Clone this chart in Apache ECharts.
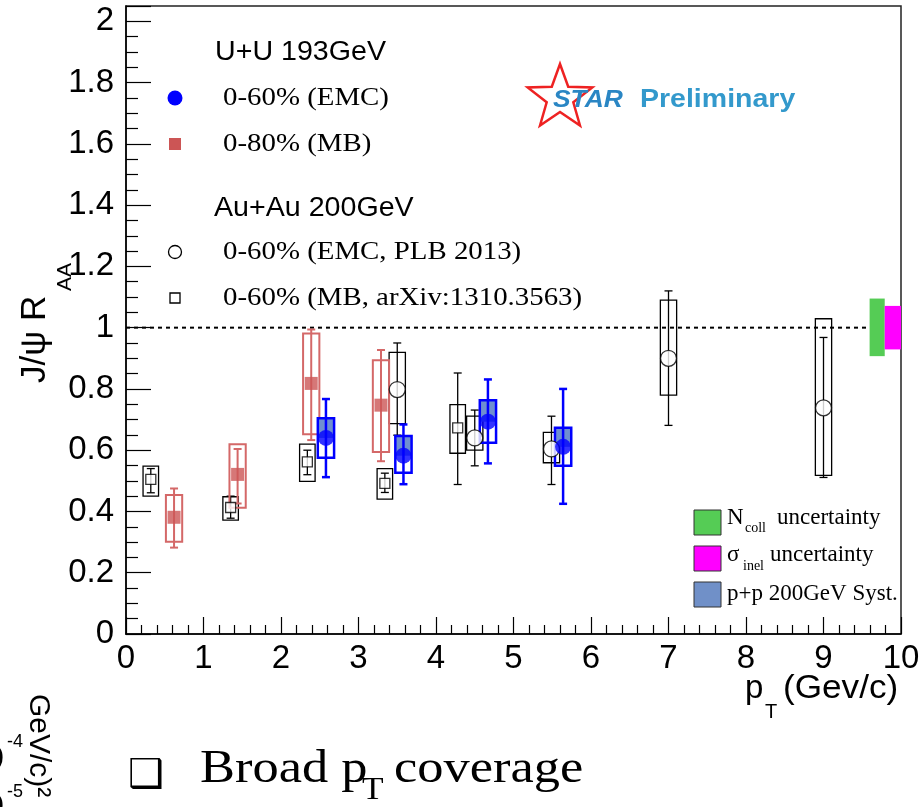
<!DOCTYPE html>
<html><head><meta charset="utf-8">
<script src="https://cdn.jsdelivr.net/npm/echarts@6/dist/echarts.min.js"></script>
<style>html,body{margin:0;padding:0;background:#fff}#c{width:923px;height:807px}</style>
</head><body><div id="c"></div>
<script>
// ---- data ----
// U+U 193 GeV, 0-60% (EMC)
const uuEmcX      = [2.58, 3.58, 4.67, 5.64];
const uuEmcY      = [0.640, 0.582, 0.693, 0.611];
const uuEmcStatLo = [0.512, 0.489, 0.557, 0.425];
const uuEmcStatHi = [0.767, 0.684, 0.831, 0.800];
const uuEmcSysLo  = [0.575, 0.526, 0.624, 0.549];
const uuEmcSysHi  = [0.704, 0.646, 0.763, 0.673];
// U+U 193 GeV, 0-80% (MB)
const uuMbX      = [0.62, 1.44, 2.39, 3.29];
const uuMbY      = [0.381, 0.521, 0.818, 0.747];
const uuMbStatLo = [0.282, 0.426, 0.633, 0.564];
const uuMbStatHi = [0.475, 0.604, 0.994, 0.927];
const uuMbSysLo  = [0.301, 0.412, 0.652, 0.594];
const uuMbSysHi  = [0.454, 0.619, 0.981, 0.894];
// Au+Au 200 GeV, 0-60% (EMC, PLB 2013)
const auEmcX      = [3.50, 4.50, 5.49, 7.00, 9.00];
const auEmcY      = [0.798, 0.640, 0.604, 0.900, 0.738];
const auEmcStatLo = [0.649, 0.549, 0.488, 0.681, 0.511];
const auEmcStatHi = [0.950, 0.731, 0.711, 1.120, 0.968];
const auEmcSysLo  = [0.687, 0.600, 0.559, 0.780, 0.518];
const auEmcSysHi  = [0.919, 0.711, 0.658, 1.090, 1.029];
// Au+Au 200 GeV, 0-60% (MB, arXiv:1310.3563)
const auMbX      = [0.32, 1.35, 2.34, 3.34, 4.28];
const auMbY      = [0.505, 0.413, 0.562, 0.492, 0.673];
const auMbStatLo = [0.461, 0.378, 0.520, 0.462, 0.488];
const auMbStatHi = [0.540, 0.450, 0.600, 0.525, 0.852];
const auMbSysLo  = [0.450, 0.372, 0.498, 0.440, 0.590];
const auMbSysHi  = [0.548, 0.448, 0.620, 0.540, 0.749];
// global uncertainty boxes at R_AA = 1
const globNames = ['Ncoll', 'sigma_inel'];
const globX0 = [9.595, 9.79];
const globX1 = [9.79, 10.0];
const globLo = [0.907, 0.929];
const globHi = [1.095, 1.071];
const refLineX = [0, 9.6];
const refLineY = [1, 1];

const xTickValues = [0,1,2,3,4,5,6,7,8,9,10];
const yTickValues = [0,0.2,0.4,0.6,0.8,1,1.2,1.4,1.6,1.8,2];

function rows(x, y, sl, sh, bl, bh) {
  return x.map((v, i) => [v, y[i], sl[i], sh[i], bl[i], bh[i]]);
}

function errBox(o) {
  return function (params, api) {
    const x = api.value(0), y = api.value(1);
    const sl = api.value(2), sh = api.value(3), bl = api.value(4), bh = api.value(5);
    const tl = api.coord([x - o.half, bh]);
    const br = api.coord([x + o.half, bl]);
    const c = api.coord([x, y]);
    const s1 = api.coord([x, sh]), s2 = api.coord([x, sl]);
    const ch = [];
    if (o.fill) ch.push({type:'rect', shape:{x:tl[0], y:tl[1], width:br[0]-tl[0], height:c[1]-tl[1]}, style:{fill:o.fill}});
    ch.push({type:'rect', shape:{x:tl[0], y:tl[1], width:br[0]-tl[0], height:br[1]-tl[1]}, style:{fill:'none', stroke:o.color, lineWidth:o.boxW}});
    ch.push({type:'line', shape:{x1:c[0], y1:s1[1], x2:c[0], y2:s2[1]}, style:{stroke:o.color, lineWidth:o.errW}});
    ch.push({type:'line', shape:{x1:c[0]-o.cap, y1:s1[1], x2:c[0]+o.cap, y2:s1[1]}, style:{stroke:o.color, lineWidth:o.errW}});
    ch.push({type:'line', shape:{x1:c[0]-o.cap, y1:s2[1], x2:c[0]+o.cap, y2:s2[1]}, style:{stroke:o.color, lineWidth:o.errW}});
    return {type:'group', children:ch};
  };
}

const RED = '#cc5555', REDBOX = '#d46868', BLUE = '#0000ff';

const chart = echarts.init(document.getElementById('c'), null, {renderer:'canvas'});

// star outline for the STAR logo
function starPts(cx, cy, R, r) {
  const p = [];
  for (let i = 0; i < 10; i++) {
    const a = -Math.PI/2 + i*Math.PI/5;
    const rr = i % 2 ? r : R;
    p.push([cx + rr*Math.cos(a), cy + rr*Math.sin(a)]);
  }
  return p;
}

const serif = '"Liberation Serif","Times New Roman",serif';
const sans = '"Liberation Sans",Arial,sans-serif';

function T(x, y, text, font, extra) {
  const el = {type:'text', x:x, y:y, style:{text:text, font:font, fill:'#000', verticalAlign:'middle'}};
  if (extra) {
    for (const k in extra) {
      if (k === 'style') Object.assign(el.style, extra.style);
      else el[k] = extra[k];
    }
  }
  return el;
}

const graphics = [
  // top-left legend
  T(215, 53, 'U+U 193GeV', '27px '+sans, {scaleX:1.06}),
  {type:'circle', shape:{cx:175, cy:98, r:7.5}, style:{fill:BLUE}},
  T(223, 98, '0-60% (EMC)', '26px '+serif, {scaleX:1.11}),
  {type:'rect', shape:{x:169, y:138, width:12, height:12}, style:{fill:RED}},
  T(223, 144, '0-80% (MB)', '26px '+serif, {scaleX:1.11}),
  T(214, 209, 'Au+Au 200GeV', '27px '+sans, {scaleX:1.06}),
  {type:'circle', shape:{cx:175, cy:252, r:6.5}, style:{fill:'#fff', stroke:'#000', lineWidth:1.3}},
  T(223, 252, '0-60% (EMC, PLB 2013)', '26px '+serif, {scaleX:1.11}),
  {type:'rect', shape:{x:170, y:293, width:10, height:10}, style:{fill:'#fff', stroke:'#000', lineWidth:1.3}},
  T(223, 298, '0-60% (MB, arXiv:1310.3563)', '26px '+serif, {scaleX:1.11}),
  // STAR Preliminary
  {type:'polygon', shape:{points:starPts(560, 98, 34, 14)}, style:{fill:'none', stroke:'#ee2222', lineWidth:2.5}},
  T(553, 100, 'STAR', 'italic bold 24px '+sans, {scaleX:1.1, style:{fill:'#2a86c4'}}),
  T(640, 100, 'Preliminary', 'bold 25px '+sans, {scaleX:1.14, style:{fill:'#3399cc'}}),
  // bottom-right legend
  {type:'rect', shape:{x:694, y:510, width:27, height:25}, style:{fill:'#55cc55', stroke:'#333', lineWidth:1}},
  T(727, 518, 'N', '23px '+serif),
  T(745, 528, 'coll', '14px '+serif),
  T(777, 518, 'uncertainty', '23px '+serif),
  {type:'rect', shape:{x:694, y:546, width:27, height:25}, style:{fill:'#ff00ff', stroke:'#333', lineWidth:1}},
  T(727, 555, 'σ', '23px '+serif),
  T(743, 566, 'inel', '14px '+serif),
  T(770, 555, 'uncertainty', '23px '+serif),
  {type:'rect', shape:{x:694, y:582, width:27, height:25}, style:{fill:'#7090c8', stroke:'#333', lineWidth:1}},
  T(727, 594, 'p+p 200GeV Syst.', '23px '+serif),
  // axis titles
  T(35, 383, 'J/ψ R', '35px '+sans, {rotation:Math.PI/2}),
  T(65, 291, 'AA', '21px '+sans, {rotation:Math.PI/2}),
  T(745, 689, 'p', '33px '+sans),
  T(765, 712, 'T', '20px '+sans),
  T(783, 689, '(Gev/c)', '33px '+sans, {scaleX:1.065}),
  // bottom slide text
  T(128, 777, '❑', '40px "DejaVu Sans",sans-serif'),
  T(200, 793, 'Broad p', '46px '+serif, {scaleX:1.14, style:{verticalAlign:'bottom'}}),
  T(362, 806, 'T', '31px '+serif, {scaleX:1.14, style:{verticalAlign:'bottom'}}),
  T(394, 793, 'coverage', '46px '+serif, {scaleX:1.14, style:{verticalAlign:'bottom'}}),
  // cut-off fragments at the left edge
  T(4, 760, '10', '34px '+sans, {style:{align:'right'}}),
  T(7, 742, '-4', '18px '+sans),
  T(4, 808, '10', '34px '+sans, {style:{align:'right'}}),
  T(7, 792, '-5', '18px '+sans),
  T(38, 694, 'GeV/c)²', '30px '+sans, {rotation:-Math.PI/2})
];

const option = {
  backgroundColor:'#fff',
  animation:false,
  grid:{left:126, right:22, top:6, bottom:173, show:true, borderColor:'#222', borderWidth:1.5, backgroundColor:'transparent'},
  xAxis:{
    type:'value', min:0, max:10, interval:1,
    axisLine:{show:true, onZero:false, lineStyle:{color:'#000', width:1.5}},
    axisTick:{show:true, inside:true, length:17, lineStyle:{color:'#000', width:1.2}},
    minorTick:{show:true, splitNumber:5, length:9, lineStyle:{color:'#000', width:1.2}},
    splitLine:{show:false},
    axisLabel:{fontSize:33, fontFamily:sans, color:'#000', margin:8,
      formatter:v => xTickValues.includes(v) ? String(v) : ''}
  },
  yAxis:{
    type:'value', min:0, max:2.05, interval:0.2,
    axisLine:{show:true, onZero:false, lineStyle:{color:'#000', width:1.5}},
    axisTick:{show:true, inside:true, length:25, lineStyle:{color:'#000', width:1.2}},
    minorTick:{show:true, splitNumber:4, length:12, lineStyle:{color:'#000', width:1.2}},
    splitLine:{show:false},
    axisLabel:{fontSize:33, fontFamily:sans, color:'#000', margin:12,
      formatter:v => { const t = yTickValues.find(u => Math.abs(u - v) < 1e-6); return t === undefined ? '' : String(t); }}
  },
  series:[
    {type:'line', data:refLineX.map((x,i)=>[x, refLineY[i]]), symbol:'none', silent:true,
     lineStyle:{color:'#000', width:2, type:[4,4]}, z:1},
    {type:'custom', data:globX0.map((x,i)=>[x, globX1[i], globLo[i], globHi[i]]), z:2,
     renderItem:(params, api) => {
       const a = api.coord([api.value(0), api.value(3)]), b = api.coord([api.value(1), api.value(2)]);
       const col = params.dataIndex === 0 ? '#55cc55' : '#ff00ff';
       return {type:'rect', shape:{x:a[0], y:a[1], width:b[0]-a[0], height:b[1]-a[1]}, style:{fill:col}};
     }},
    {type:'custom', data:rows(auMbX, auMbY, auMbStatLo, auMbStatHi, auMbSysLo, auMbSysHi), z:3,
     renderItem:errBox({half:0.1, color:'#000', boxW:1.3, errW:1.3, cap:4})},
    {type:'custom', data:rows(auEmcX, auEmcY, auEmcStatLo, auEmcStatHi, auEmcSysLo, auEmcSysHi), z:3,
     renderItem:errBox({half:0.105, color:'#000', boxW:1.3, errW:1.3, cap:4})},
    {type:'custom', data:rows(uuMbX, uuMbY, uuMbStatLo, uuMbStatHi, uuMbSysLo, uuMbSysHi), z:4,
     renderItem:errBox({half:0.105, color:REDBOX, boxW:2, errW:2, cap:4})},
    {type:'custom', data:rows(uuEmcX, uuEmcY, uuEmcStatLo, uuEmcStatHi, uuEmcSysLo, uuEmcSysHi), z:5,
     renderItem:errBox({half:0.105, color:BLUE, boxW:2.5, errW:2.5, cap:4, fill:'#6f8fd0'})},
    {type:'scatter', data:auMbX.map((x,i)=>[x, auMbY[i]]), symbol:'rect', symbolSize:10, z:6,
     itemStyle:{color:'#fff', borderColor:'#000', borderWidth:1.3}},
    {type:'scatter', data:auEmcX.map((x,i)=>[x, auEmcY[i]]), symbol:'circle', symbolSize:16, z:6,
     itemStyle:{color:'#fff', borderColor:'#000', borderWidth:1.3}},
    {type:'scatter', data:uuMbX.map((x,i)=>[x, uuMbY[i]]), symbol:'rect', symbolSize:13, z:7,
     itemStyle:{color:RED}},
    {type:'scatter', data:uuEmcX.map((x,i)=>[x, uuEmcY[i]]), symbol:'circle', symbolSize:16, z:8,
     itemStyle:{color:BLUE}}
  ],
  graphic:graphics
};
chart.setOption(option);
</script>
</body></html>
